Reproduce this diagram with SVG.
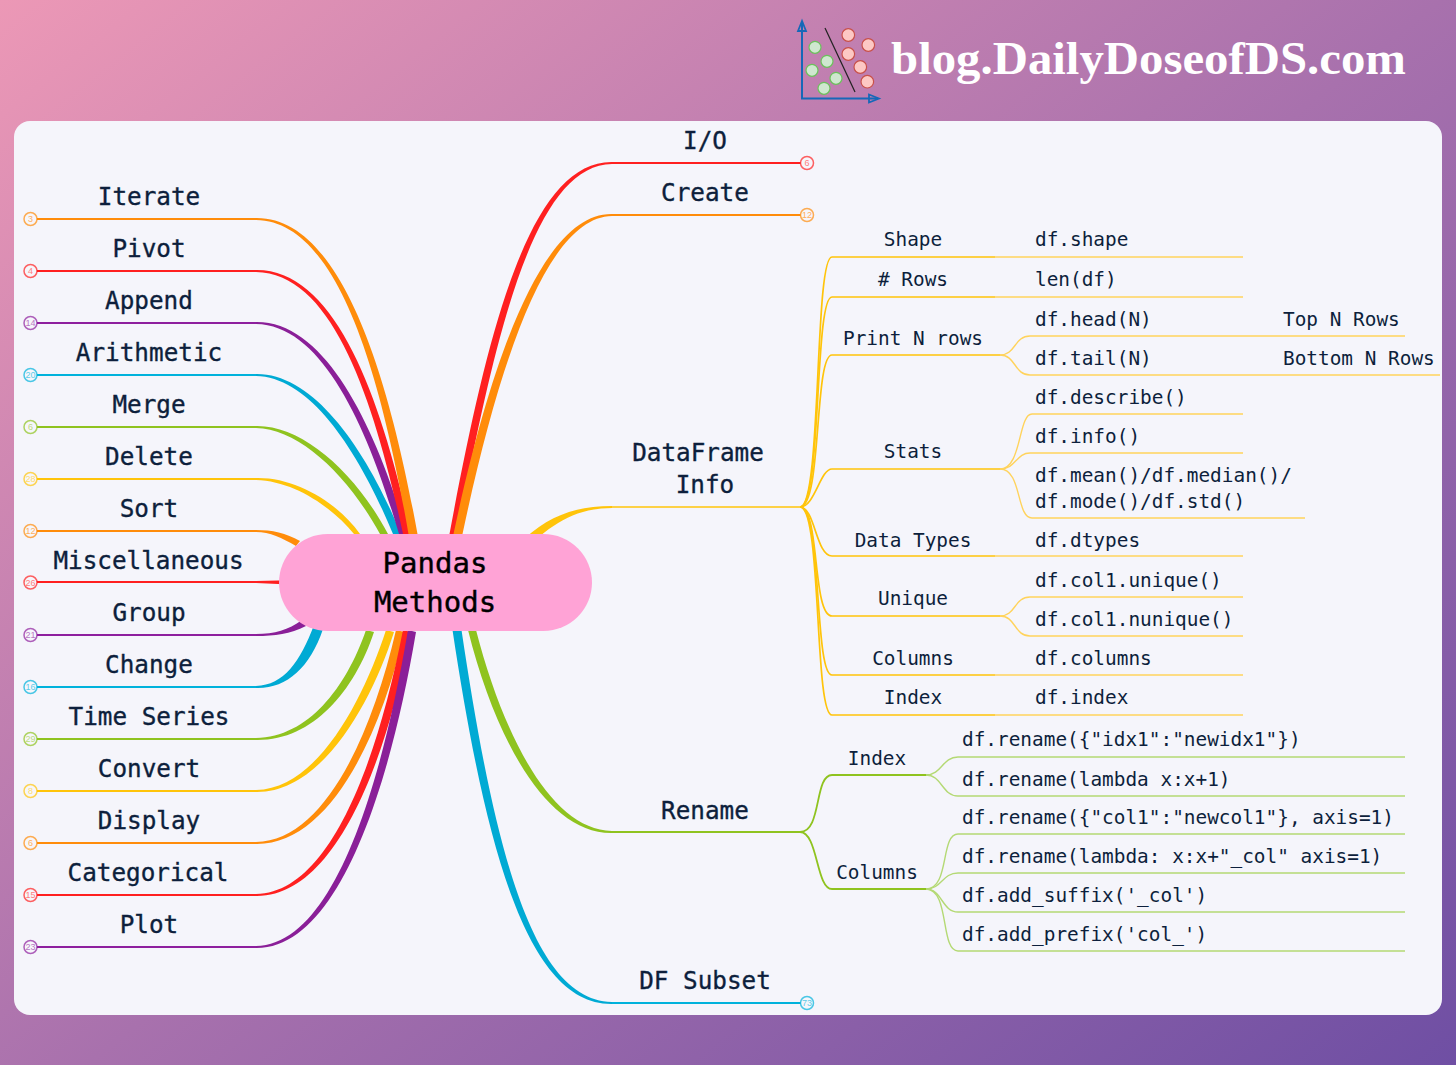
<svg xmlns="http://www.w3.org/2000/svg" width="1456" height="1065" viewBox="0 0 1456 1065">
<defs>
<linearGradient id="bg" x1="0" y1="0" x2="1100" y2="1400" gradientUnits="userSpaceOnUse">
<stop offset="0" stop-color="#ec98b6"/><stop offset="0.5" stop-color="#a871ad"/><stop offset="1" stop-color="#6c4da3"/>
</linearGradient>
</defs>
<style>
text{font-family:"DejaVu Sans Mono","Liberation Mono",monospace;fill:#0d1f3c}
.big{font-size:24.3px;text-anchor:middle;stroke:#0d1f3c;stroke-width:.35}
.sm{font-size:19.4px}
.mid{text-anchor:middle}
.num{font-family:"Liberation Sans",sans-serif;font-size:9px;text-anchor:middle;stroke:none}
.c{fill:#f6f6fb;stroke-width:1.5;stroke-opacity:.7}
.l{fill:none;stroke-width:1.9}
.o{stroke:#ff8c0a}.r{stroke:#ff2020}.p{stroke:#8e1f9e}.b{stroke:#00b2dc}.g{stroke:#8fc31f}.y{stroke:#ffc40a}
.fo{fill:#ff8c0a}.fr{fill:#ff2020}.fp{fill:#8a1f98}.fb{fill:#00aad4}.fg{fill:#8fc31f}.fy{fill:#ffc40a}
.ly{fill:none;stroke:#ffc40a;stroke-width:1.7}
.ly2{fill:none;stroke:#ffd35c;stroke-width:1.4}
.lg{fill:none;stroke:#8fc31f;stroke-width:1.8}
.lg2{fill:none;stroke:#b4d974;stroke-width:1.4}
</style>
<rect id="background" width="1456" height="1065" fill="url(#bg)"/>
<rect id="card" x="14" y="121" width="1428" height="894" rx="16" fill="#f5f5fb"/>

<g id="connectors">
<!-- left upper -->
<path class="fy" d="M256 478C296 477 338 503 360 534L365 541L358 541L354 534C332 507 294 481 256 480Z"/>
<path class="fg" d="M256 426C301 425 354 470 388 534L392 541L384 541L380 534C347 474 299 429 256 428Z"/>
<path class="fb" d="M256 374C313 373 366 448 401 534L404 541L396 541L393 534C359 452 311 377 256 376Z"/>
<path class="fp" d="M256 322C326 321 376 428 407 534L409 541L401 541L399 534C369 432 324 325 256 324Z"/>
<path class="fr" d="M256 270C336 269 382 400 411 534L412.500 541L404.500 541L403 534C375 404 334 273 256 272Z"/>
<path class="fo" d="M256 218C341 217 388.500 374 417.500 534L419 541L410 541L408.500 534C381.500 378 339 221 256 220Z"/>
<path class="fo" d="M256 530C272 530 286 533 300 541L296 546C282 538 270 532 256 532Z"/>
<path class="fr" d="M256 581L300 580V585L256 583Z"/>
<path class="fp" d="M256 634C275 634 288 630 302 620L306 626C290 634 275 636 256 636Z"/>
<path class="fb" d="M256 686C284 685 300 662 314 625L323 629C310 668 286 689 256 688Z"/>
<path class="fg" d="M256 738C308 737 346 688 366 630L374 632C354 692 312 741 256 740Z"/>
<path class="fy" d="M256 790C318 789 364 698 386 630L394 632C372 702 322 793 256 792Z"/>
<path class="fo" d="M256 842C323 841 371 738 396 630L404.500 632C379 742 327 845 256 844Z"/>
<path class="fr" d="M256 894C328 893 376 768 403 630L411 632C384 772 332 897 256 896Z"/>
<path class="fp" d="M256 946C333 945 381 788 408 630L416 632C389 792 337 949 256 948Z"/>
<path class="l o" d="M36 219H256"/><path class="l r" d="M36 271H256"/><path class="l p" d="M36 323H256"/><path class="l b" d="M36 375H256"/>
<path class="l g" d="M36 427H256"/><path class="l y" d="M36 479H256"/><path class="l o" d="M36 531H256"/><path class="l r" d="M36 582H256"/>
<path class="l p" d="M36 635H256"/><path class="l b" d="M36 687H256"/><path class="l g" d="M36 739H256"/><path class="l y" d="M36 791H256"/>
<path class="l o" d="M36 843H256"/><path class="l r" d="M36 895H256"/><path class="l p" d="M36 947H256"/>
<!-- right main -->
<path class="fr" d="M612 162C528 161 486 338 449.500 534L449 540L457 540L457 534C494 342 532 165 612 164Z"/>
<path class="fo" d="M612 214C543 213 491 358 453.500 534L452.500 540L461.500 540L462.500 534C499 362 547 217 612 216Z"/>
<path class="fy" d="M612 506C575 506 550 516 525 538L531 544C555 522 578 508 612 508Z"/>
<path class="fg" d="M612 833C548 834 496 742 468 630L476 630C504 738 552 830 612 831Z"/>
<path class="fb" d="M612 1004C528 1005 486 852 452.500 630L461.500 630C494 848 532 1001 612 1002Z"/>
<path class="l r" d="M612 163H801"/><path class="l o" d="M612 215H801"/><path class="ly" d="M612 507H800"/><path class="lg" d="M612 832H800"/><path class="l b" d="M612 1003H801"/>
<!-- DataFrame Info -->
<path class="ly" d="M800 507C822 507 814 257 832 257H995"/><path class="ly2" d="M995 257H1243"/>
<path class="ly" d="M800 507C822 507 814 297 832 297H995"/><path class="ly2" d="M995 297H1243"/>
<path class="ly" d="M800 507C822 507 814 355 832 355H1000"/>
<path class="ly" d="M800 507C815 507 820 469 832 469H1000"/>
<path class="ly" d="M800 507C815 507 816 556 832 556H995"/><path class="ly2" d="M995 556H1243"/>
<path class="ly" d="M800 507C820 507 812 616 832 616H1000"/>
<path class="ly" d="M800 507C822 507 814 675 832 675H995"/><path class="ly2" d="M995 675H1243"/>
<path class="ly" d="M800 507C822 507 814 715 832 715H995"/><path class="ly2" d="M995 715H1243"/>
<path class="ly2" d="M1000 355C1016 355 1014 336 1030 336H1405"/>
<path class="ly2" d="M1000 355C1016 355 1014 375 1030 375H1440"/>
<path class="ly2" d="M1000 469C1022 469 1018 414 1032 414H1243"/>
<path class="ly2" d="M1000 469C1016 469 1016 453 1030 453H1243"/>
<path class="ly2" d="M1000 469C1022 469 1016 518 1032 518H1305"/>
<path class="ly2" d="M1000 616C1016 616 1014 597 1030 597H1243"/>
<path class="ly2" d="M1000 616C1016 616 1014 636 1030 636H1243"/>
<!-- Rename -->
<path class="lg" d="M800 832C822 832 814 775 832 775H930"/>
<path class="lg" d="M800 832C818 832 816 889 832 889H930"/>
<path class="lg2" d="M926 775C942 775 942 757 958 757H1405"/>
<path class="lg2" d="M926 775C942 775 942 796 958 796H1405"/>
<path class="lg2" d="M926 889C950 889 940 834 958 834H1405"/>
<path class="lg2" d="M926 889C942 889 942 873 958 873H1405"/>
<path class="lg2" d="M926 889C942 889 942 912 958 912H1405"/>
<path class="lg2" d="M926 889C950 889 940 951 958 951H1405"/>
</g>

<g id="logo" fill="none">
<path d="M802 22V98.500H878" stroke="#1668b8" stroke-width="2"/>
<path d="M802 21L798 31H806ZM879 98.500L869 94.500V102.500Z" stroke="#1668b8" stroke-width="1.8"/>
<path d="M825 28L855 92" stroke="#222" stroke-width="1.2"/>
<g fill="#cfe8cf" stroke="#6cc05c" stroke-width="1.2"><circle cx="815" cy="47.300" r="6"/><circle cx="827" cy="61.300" r="6"/><circle cx="812" cy="70.300" r="6"/><circle cx="836" cy="78.300" r="6"/><circle cx="824" cy="88.300" r="6"/></g>
<g fill="#fdc8c4" stroke="#c8504a" stroke-width="1.2"><circle cx="848.300" cy="35" r="6.300"/><circle cx="868.300" cy="45" r="6.300"/><circle cx="848.300" cy="54" r="6.300"/><circle cx="860.300" cy="67" r="6.300"/><circle cx="867.300" cy="81.700" r="6.300"/></g>
</g>
<text id="site" x="891" y="74" textLength="515" lengthAdjust="spacingAndGlyphs" style="font-family:'Liberation Serif',serif;font-weight:700;font-size:46px;fill:#fff">blog.DailyDoseofDS.com</text>

<g id="root"><rect x="279" y="534" width="313" height="97" rx="48.500" fill="#ffa3d6"/>
<text x="435" y="573" class="mid" style="font-size:29px;fill:#000;stroke:#000;stroke-width:.4">Pandas</text>
<text x="435" y="612" class="mid" style="font-size:29px;fill:#000;stroke:#000;stroke-width:.4">Methods</text></g>

<g id="n-iterate"><circle class="c o" cx="30.500" cy="219" r="6.500"/><text class="num" x="30.500" y="222" style="fill:#ffb060">3</text><text class="big" x="149" y="205">Iterate</text></g>
<g id="n-pivot"><circle class="c r" cx="30.500" cy="271" r="6.500"/><text class="num" x="30.500" y="274" style="fill:#ff8080">4</text><text class="big" x="149" y="257">Pivot</text></g>
<g id="n-append"><circle class="c p" cx="30.500" cy="323" r="6.500"/><text class="num" x="30.500" y="326" style="fill:#b878c4">14</text><text class="big" x="149" y="309">Append</text></g>
<g id="n-arithmetic"><circle class="c b" cx="30.500" cy="375" r="6.500"/><text class="num" x="30.500" y="378" style="fill:#60cce8">20</text><text class="big" x="149" y="361">Arithmetic</text></g>
<g id="n-merge"><circle class="c g" cx="30.500" cy="427" r="6.500"/><text class="num" x="30.500" y="430" style="fill:#bcdc80">6</text><text class="big" x="149" y="413">Merge</text></g>
<g id="n-delete"><circle class="c y" cx="30.500" cy="479" r="6.500"/><text class="num" x="30.500" y="482" style="fill:#ffdc70">28</text><text class="big" x="149" y="465">Delete</text></g>
<g id="n-sort"><circle class="c o" cx="30.500" cy="531" r="6.500"/><text class="num" x="30.500" y="534" style="fill:#ffb060">12</text><text class="big" x="149" y="517">Sort</text></g>
<g id="n-misc"><circle class="c r" cx="30.500" cy="582.500" r="6.500"/><text class="num" x="30.500" y="585.500" style="fill:#ff8080">26</text><text class="big" x="148.500" y="569">Miscellaneous</text></g>
<g id="n-group"><circle class="c p" cx="30.500" cy="635" r="6.500"/><text class="num" x="30.500" y="638" style="fill:#b878c4">21</text><text class="big" x="149" y="621">Group</text></g>
<g id="n-change"><circle class="c b" cx="30.500" cy="687" r="6.500"/><text class="num" x="30.500" y="690" style="fill:#60cce8">16</text><text class="big" x="149" y="673">Change</text></g>
<g id="n-timeseries"><circle class="c g" cx="30.500" cy="739" r="6.500"/><text class="num" x="30.500" y="742" style="fill:#bcdc80">29</text><text class="big" x="149" y="725">Time Series</text></g>
<g id="n-convert"><circle class="c y" cx="30.500" cy="791" r="6.500"/><text class="num" x="30.500" y="794" style="fill:#ffdc70">8</text><text class="big" x="149" y="777">Convert</text></g>
<g id="n-display"><circle class="c o" cx="30.500" cy="843" r="6.500"/><text class="num" x="30.500" y="846" style="fill:#ffb060">6</text><text class="big" x="149" y="829">Display</text></g>
<g id="n-categorical"><circle class="c r" cx="30.500" cy="895" r="6.500"/><text class="num" x="30.500" y="898" style="fill:#ff8080">15</text><text class="big" x="148" y="881">Categorical</text></g>
<g id="n-plot"><circle class="c p" cx="30.500" cy="947" r="6.500"/><text class="num" x="30.500" y="950" style="fill:#b878c4">23</text><text class="big" x="149" y="933">Plot</text></g>

<g id="n-io"><circle class="c r" cx="807" cy="163" r="6.500"/><text class="num" x="807" y="166" style="fill:#ff8080">6</text><text class="big" x="705" y="149">I/O</text></g>
<g id="n-create"><circle class="c o" cx="807" cy="215" r="6.500"/><text class="num" x="807" y="218" style="fill:#ffb060">12</text><text class="big" x="705" y="201">Create</text></g>
<g id="n-dfinfo"><text class="big" x="698" y="461">DataFrame</text><text class="big" x="705" y="493">Info</text></g>
<g id="n-rename"><text class="big" x="705" y="819">Rename</text></g>
<g id="n-subset"><circle class="c b" cx="807" cy="1003" r="6.500"/><text class="num" x="807" y="1006" style="fill:#60cce8">73</text><text class="big" x="705" y="989">DF Subset</text></g>

<g id="n-info-labels" class="sm">
<text class="sm mid" x="913" y="246">Shape</text>
<text class="sm mid" x="913" y="286"># Rows</text>
<text class="sm mid" x="913" y="345">Print N rows</text>
<text class="sm mid" x="913" y="458">Stats</text>
<text class="sm mid" x="913" y="547">Data Types</text>
<text class="sm mid" x="913" y="605">Unique</text>
<text class="sm mid" x="913" y="665">Columns</text>
<text class="sm mid" x="913" y="704">Index</text>
</g>
<g id="n-info-values">
<text class="sm" x="1035" y="246">df.shape</text>
<text class="sm" x="1035" y="286">len(df)</text>
<text class="sm" x="1035" y="326">df.head(N)</text>
<text class="sm" x="1035" y="365">df.tail(N)</text>
<text class="sm" x="1283" y="326">Top N Rows</text>
<text class="sm" x="1283" y="365">Bottom N Rows</text>
<text class="sm" x="1035" y="404">df.describe()</text>
<text class="sm" x="1035" y="443">df.info()</text>
<text class="sm" x="1035" y="482">df.mean()/df.median()/</text>
<text class="sm" x="1035" y="508">df.mode()/df.std()</text>
<text class="sm" x="1035" y="547">df.dtypes</text>
<text class="sm" x="1035" y="587">df.col1.unique()</text>
<text class="sm" x="1035" y="626">df.col1.nunique()</text>
<text class="sm" x="1035" y="665">df.columns</text>
<text class="sm" x="1035" y="704">df.index</text>
</g>
<g id="n-rename-children">
<text class="sm mid" x="877" y="765">Index</text>
<text class="sm mid" x="877" y="879">Columns</text>
<text class="sm" x="962" y="746">df.rename({"idx1":"newidx1"})</text>
<text class="sm" x="962" y="786">df.rename(lambda x:x+1)</text>
<text class="sm" x="962" y="824">df.rename({"col1":"newcol1"}, axis=1)</text>
<text class="sm" x="962" y="863">df.rename(lambda: x:x+"_col" axis=1)</text>
<text class="sm" x="962" y="902">df.add_suffix('_col')</text>
<text class="sm" x="962" y="941">df.add_prefix('col_')</text>
</g>
</svg>
